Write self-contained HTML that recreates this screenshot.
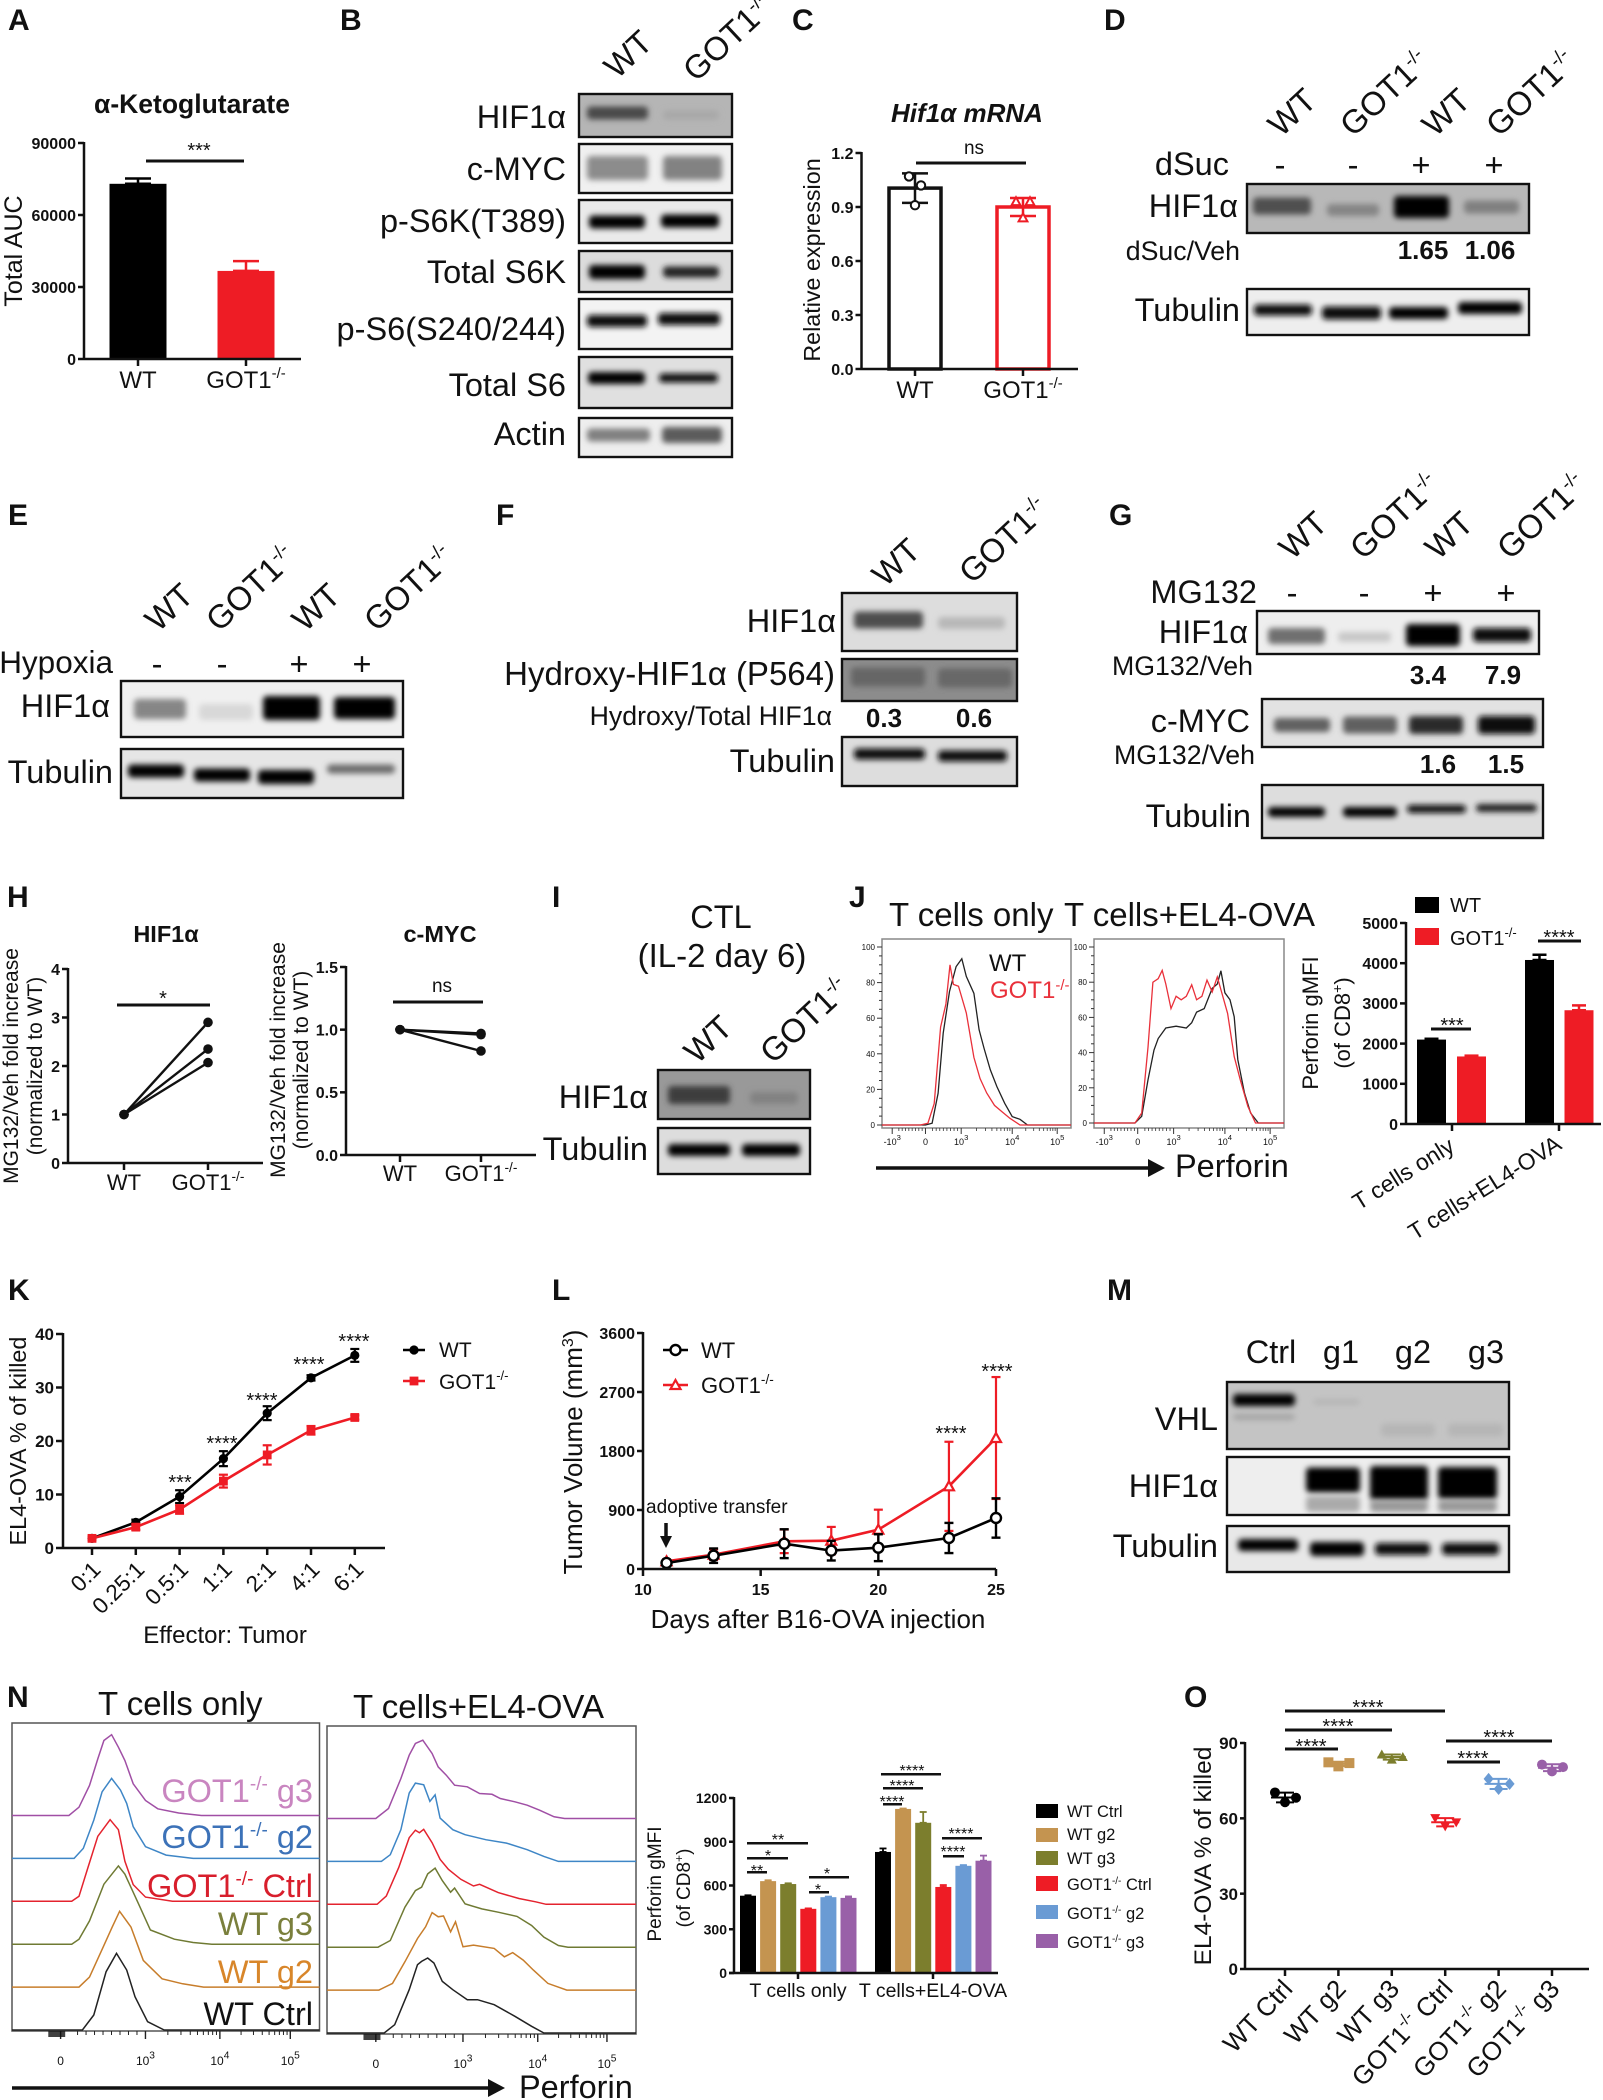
<!DOCTYPE html>
<html lang="en">
<head>
<meta charset="utf-8">
<title>GOT1 HIF1a multi-panel figure</title>
<style>
html,body{margin:0;padding:0;background:#fff;}
svg{display:block;}
text{font-family:"Liberation Sans",Arial,sans-serif;fill:#111;}
.e{text-anchor:end;}
.m{text-anchor:middle;}
.b{font-weight:bold;}
.p{font-weight:bold;font-size:30px;}
.l{font-size:32.5px;}
.t{font-size:33px;}
.v{font-size:26.7px;}
.vb{font-size:26px;font-weight:bold;}
.s{font-size:20px;text-anchor:middle;}
.s16{font-size:16px;text-anchor:middle;}
.r{font-size:33px;}
</style>
</head>
<body>
<svg id="root" xmlns="http://www.w3.org/2000/svg" width="1603" height="2100" viewBox="0 0 1603 2100">
<defs>
<filter id="blur" x="-50%" y="-200%" width="200%" height="500%"><feGaussianBlur stdDeviation="3"/></filter>
</defs>
<rect width="1603" height="2100" fill="#fff"/>
<g id="blots"></g>

<g>
<text class="p" x="8" y="30">A</text>
<text class="b m" x="192" y="113" font-size="26.5">α-Ketoglutarate</text>
<g id="a-marks"></g>
<text class="m" transform="translate(22 251) rotate(-90)" font-size="25">Total AUC</text>
<rect x="146" y="159.5" width="98" height="3" fill="#111"/>
<text class="s" x="199" y="157">***</text>
</g>

<g>
<text class="p" x="340" y="30">B</text>
<text class="r" transform="translate(617 80) rotate(-43)">WT</text>
<text class="r" transform="translate(696 83) rotate(-43)">GOT1<tspan dy="-12" font-size="19">-/-</tspan></text>
<text class="l e" x="566" y="128">HIF1α</text>
<text class="l e" x="566" y="180">c-MYC</text>
<text class="l e" x="566" y="232">p-S6K(T389)</text>
<text class="l e" x="566" y="283">Total S6K</text>
<text class="l e" x="566" y="340">p-S6(S240/244)</text>
<text class="l e" x="566" y="396">Total S6</text>
<text class="l e" x="566" y="445">Actin</text>
</g>

<g>
<text class="p" x="792" y="30">C</text>
<text class="b m" x="967" y="122" font-size="26" font-style="italic">Hif1α mRNA</text>
<g id="c-marks"></g>
<text class="m" transform="translate(820 260) rotate(-90)" font-size="23.3">Relative expression</text>
<rect x="916" y="161.5" width="110" height="3" fill="#111"/>
<text class="m" x="974" y="154" font-size="19">ns</text>
</g>

<g>
<text class="p" x="1104" y="30">D</text>
<text class="r" transform="translate(1281 138) rotate(-43)">WT</text>
<text class="r" transform="translate(1353 138) rotate(-43)">GOT1<tspan dy="-12" font-size="19">-/-</tspan></text>
<text class="r" transform="translate(1435 138) rotate(-43)">WT</text>
<text class="r" transform="translate(1499 138) rotate(-43)">GOT1<tspan dy="-12" font-size="19">-/-</tspan></text>
<text class="l e" x="1229" y="175">dSuc</text>
<text class="l m" x="1280" y="176">-</text>
<text class="l m" x="1353" y="176">-</text>
<text class="l m" x="1421" y="176">+</text>
<text class="l m" x="1494" y="176">+</text>
<text class="l e" x="1238" y="217">HIF1α</text>
<text class="v e" x="1240" y="260">dSuc/Veh</text>
<text class="vb m" x="1423" y="259">1.65</text>
<text class="vb m" x="1490" y="259">1.06</text>
<text class="l e" x="1240" y="321">Tubulin</text>
</g>

<g>
<text class="p" x="8" y="525">E</text>
<text class="r" transform="translate(158 633) rotate(-43)">WT</text>
<text class="r" transform="translate(219 633) rotate(-43)">GOT1<tspan dy="-12" font-size="19">-/-</tspan></text>
<text class="r" transform="translate(305 633) rotate(-43)">WT</text>
<text class="r" transform="translate(377 633) rotate(-43)">GOT1<tspan dy="-12" font-size="19">-/-</tspan></text>
<text class="e" x="113" y="673" font-size="31.5">Hypoxia</text>
<text class="l m" x="157" y="675">-</text>
<text class="l m" x="222" y="675">-</text>
<text class="l m" x="299" y="675">+</text>
<text class="l m" x="362" y="675">+</text>
<text class="l e" x="110" y="717">HIF1α</text>
<text class="l e" x="113" y="783">Tubulin</text>
</g>

<g>
<text class="p" x="496" y="525">F</text>
<text class="r" transform="translate(885 588) rotate(-43)">WT</text>
<text class="r" transform="translate(972 585) rotate(-43)">GOT1<tspan dy="-12" font-size="19">-/-</tspan></text>
<text class="l e" x="836" y="632">HIF1α</text>
<text class="e" x="835" y="685" font-size="33">Hydroxy-HIF1α (P564)</text>
<text class="v e" x="832" y="725">Hydroxy/Total HIF1α</text>
<text class="vb m" x="884" y="727">0.3</text>
<text class="vb m" x="974" y="727">0.6</text>
<text class="l e" x="835" y="772">Tubulin</text>
</g>

<g>
<text class="p" x="1109" y="525">G</text>
<text class="r" transform="translate(1292 561) rotate(-43)">WT</text>
<text class="r" transform="translate(1363 561) rotate(-43)">GOT1<tspan dy="-12" font-size="19">-/-</tspan></text>
<text class="r" transform="translate(1438 561) rotate(-43)">WT</text>
<text class="r" transform="translate(1510 561) rotate(-43)">GOT1<tspan dy="-12" font-size="19">-/-</tspan></text>
<text class="l e" x="1257" y="603">MG132</text>
<text class="l m" x="1292" y="604">-</text>
<text class="l m" x="1364" y="604">-</text>
<text class="l m" x="1433" y="604">+</text>
<text class="l m" x="1506" y="604">+</text>
<text class="l e" x="1248" y="643">HIF1α</text>
<text class="v e" x="1253" y="675">MG132/Veh</text>
<text class="vb m" x="1428" y="684">3.4</text>
<text class="vb m" x="1503" y="684">7.9</text>
<text class="l e" x="1250" y="732">c-MYC</text>
<text class="v e" x="1255" y="764">MG132/Veh</text>
<text class="vb m" x="1438" y="773">1.6</text>
<text class="vb m" x="1506" y="773">1.5</text>
<text class="l e" x="1251" y="827">Tubulin</text>
</g>

<g>
<text class="p" x="7" y="907">H</text>
<text class="b m" x="166" y="942" font-size="23.5">HIF1α</text>
<text class="b m" x="440" y="942" font-size="23.5">c-MYC</text>
<g id="h-marks"></g>
<text class="m" transform="translate(18 1066) rotate(-90)" font-size="21">MG132/Veh fold increase</text>
<text class="m" transform="translate(42 1066) rotate(-90)" font-size="21">(normalized to WT)</text>
<text class="m" transform="translate(285 1060) rotate(-90)" font-size="21">MG132/Veh fold increase</text>
<text class="m" transform="translate(308 1060) rotate(-90)" font-size="21">(normalized to WT)</text>
<rect x="117" y="1003.5" width="93" height="3" fill="#111"/>
<text class="s" x="163" y="1005">*</text>
<rect x="393" y="1000.5" width="90" height="3" fill="#111"/>
<text class="m" x="442" y="992" font-size="19">ns</text>
</g>

<g>
<text class="p" x="552" y="907">I</text>
<text class="l m" x="721" y="928">CTL</text>
<text class="t m" x="722" y="967">(IL-2 day 6)</text>
<text class="r" transform="translate(697 1065) rotate(-43)">WT</text>
<text class="r" transform="translate(773 1065) rotate(-43)">GOT1<tspan dy="-12" font-size="19">-/-</tspan></text>
<text class="l e" x="648" y="1108">HIF1α</text>
<text class="l e" x="648" y="1160">Tubulin</text>
</g>

<g>
<text class="p" x="849" y="907">J</text>
<text class="t" x="889" y="926">T cells only</text>
<text class="t" x="1064" y="926">T cells+EL4-OVA</text>
<g id="j-marks"></g>
<text x="989" y="971" font-size="24">WT</text>
<text x="990" y="998" font-size="24" style="fill:#e9303a">GOT1<tspan dy="-8" font-size="15" style="fill:#e9303a">-/-</tspan></text>
<line x1="876" y1="1168" x2="1150" y2="1168" stroke="#111" stroke-width="3.5"/>
<polygon points="1148,1159 1165,1168 1148,1177" fill="#111"/>
<text class="l" x="1175" y="1177">Perforin</text>
<text class="m" transform="translate(1318 1023) rotate(-90)" font-size="22">Perforin gMFI</text>
<text class="m" transform="translate(1350 1023) rotate(-90)" font-size="22">(of CD8<tspan dy="-8" font-size="14">+</tspan><tspan dy="8">)</tspan></text>
<rect x="1415" y="897" width="24" height="16" fill="#000"/>
<text x="1450" y="912" font-size="20">WT</text>
<rect x="1415" y="928" width="24" height="17" fill="#ee1c25"/>
<text x="1450" y="945" font-size="20">GOT1<tspan dy="-8" font-size="13">-/-</tspan></text>
<rect x="1431" y="1027.5" width="40" height="3" fill="#111"/>
<text class="s" x="1452" y="1032">***</text>
<rect x="1538" y="939.5" width="43" height="3" fill="#111"/>
<text class="s" x="1559" y="944">****</text>
</g>

<g>
<text class="p" x="8" y="1300">K</text>
<g id="k-marks"></g>
<text class="m" transform="translate(26 1441) rotate(-90)" font-size="23.4">EL4-OVA % of killed</text>
<text class="m" x="225" y="1643" font-size="24">Effector: Tumor</text>
<text class="s" x="180" y="1489">***</text>
<text class="s" x="222" y="1450">****</text>
<text class="s" x="262" y="1407">****</text>
<text class="s" x="309" y="1371">****</text>
<text class="s" x="354" y="1348">****</text>
</g>

<g>
<text class="p" x="552" y="1300">L</text>
<g id="l-marks"></g>
<text class="m" transform="translate(582 1452) rotate(-90)" font-size="26">Tumor Volume (mm<tspan dy="-9" font-size="16">3</tspan><tspan dy="9">)</tspan></text>
<text class="m" x="818" y="1628" font-size="26">Days after B16-OVA injection</text>
<text x="646" y="1513" font-size="19">adoptive transfer</text>
<line x1="666" y1="1523" x2="666" y2="1538" stroke="#111" stroke-width="3.5"/>
<polygon points="660,1536 672,1536 666,1548" fill="#111"/>
<text class="s" x="951" y="1440">****</text>
<text class="s" x="997" y="1378">****</text>
</g>

<g>
<text class="p" x="1107" y="1300">M</text>
<text class="l m" x="1271" y="1363">Ctrl</text>
<text class="l m" x="1341" y="1363">g1</text>
<text class="l m" x="1413" y="1363">g2</text>
<text class="l m" x="1486" y="1363">g3</text>
<text class="l e" x="1218" y="1430">VHL</text>
<text class="l e" x="1218" y="1497">HIF1α</text>
<text class="l e" x="1218" y="1557">Tubulin</text>
</g>

<g>
<text class="p" x="7" y="1707">N</text>
<text class="t" x="98" y="1715">T cells only</text>
<text class="t" x="353" y="1718">T cells+EL4-OVA</text>
<g id="n-marks"></g>
<text class="l e" x="313" y="1802" style="fill:#c985c0">GOT1<tspan dy="-12" font-size="19" style="fill:#c985c0">-/-</tspan><tspan dy="12"> g3</tspan></text>
<text class="l e" x="313" y="1848" style="fill:#3c72b8">GOT1<tspan dy="-12" font-size="19" style="fill:#3c72b8">-/-</tspan><tspan dy="12"> g2</tspan></text>
<text class="l e" x="313" y="1897" style="fill:#d81e2c">GOT1<tspan dy="-12" font-size="19" style="fill:#d81e2c">-/-</tspan><tspan dy="12"> Ctrl</tspan></text>
<text class="l e" x="313" y="1935" style="fill:#7a7f3c">WT g3</text>
<text class="l e" x="313" y="1983" style="fill:#d8862a">WT g2</text>
<text class="l e" x="313" y="2025">WT Ctrl</text>
<line x1="12" y1="2088" x2="490" y2="2088" stroke="#111" stroke-width="3.5"/>
<polygon points="488,2079 505,2088 488,2097" fill="#111"/>
<text class="l" x="519" y="2098">Perforin</text>
<text class="m" transform="translate(661 1884) rotate(-90)" font-size="19">Perforin gMFI</text>
<text class="m" transform="translate(690 1888) rotate(-90)" font-size="19">(of CD8<tspan dy="-7" font-size="12">+</tspan><tspan dy="7">)</tspan></text>

<rect x="881" y="1773" width="60" height="2.5" fill="#111"/>
<text class="s16" x="912" y="1776">****</text>
<rect x="883" y="1787" width="40" height="2.5" fill="#111"/>
<text class="s16" x="902" y="1791">****</text>
<rect x="883" y="1803" width="19" height="2.5" fill="#111"/>
<text class="s16" x="892" y="1807">****</text>
<rect x="942" y="1837" width="40" height="2.5" fill="#111"/>
<text class="s16" x="961" y="1839">****</text>
<rect x="943" y="1855" width="21" height="2.5" fill="#111"/>
<text class="s16" x="953" y="1857">****</text>
<rect x="747" y="1842" width="61" height="2.5" fill="#111"/>
<text class="s16" x="778" y="1845">**</text>
<rect x="747" y="1857" width="41" height="2.5" fill="#111"/>
<text class="s16" x="768" y="1861">*</text>
<rect x="747" y="1871" width="20" height="2.5" fill="#111"/>
<text class="s16" x="757" y="1876">**</text>
<rect x="809" y="1876" width="40" height="2.5" fill="#111"/>
<text class="s16" x="827" y="1879">*</text>
<rect x="809" y="1891" width="20" height="2.5" fill="#111"/>
<text class="s16" x="818" y="1895">*</text>

<rect x="1036" y="1804" width="22" height="14" fill="#000"/>
<text x="1067" y="1817" font-size="16.5">WT Ctrl</text>
<rect x="1036" y="1828" width="22" height="14" fill="#c49450"/>
<text x="1067" y="1840" font-size="16.5">WT g2</text>
<rect x="1036" y="1851" width="22" height="14" fill="#7c7e2d"/>
<text x="1067" y="1864" font-size="16.5">WT g3</text>
<rect x="1036" y="1876" width="22" height="15" fill="#ee1c25"/>
<text x="1067" y="1890" font-size="16.5">GOT1<tspan dy="-6" font-size="10">-/-</tspan><tspan dy="6"> Ctrl</tspan></text>
<rect x="1036" y="1905" width="22" height="14" fill="#6a9bd4"/>
<text x="1067" y="1919" font-size="16.5">GOT1<tspan dy="-6" font-size="10">-/-</tspan><tspan dy="6"> g2</tspan></text>
<rect x="1036" y="1934" width="22" height="14" fill="#9960a8"/>
<text x="1067" y="1948" font-size="16.5">GOT1<tspan dy="-6" font-size="10">-/-</tspan><tspan dy="6"> g3</tspan></text>
</g>

<g>
<text class="p" x="1184" y="1707">O</text>
<g id="o-marks"></g>
<text class="m" transform="translate(1211 1856) rotate(-90)" font-size="24.5">EL4-OVA % of killed</text>
<rect x="1285" y="1709.5" width="160" height="3" fill="#111"/>
<text class="s" x="1368" y="1714">****</text>
<rect x="1285" y="1728.5" width="107" height="3" fill="#111"/>
<text class="s" x="1338" y="1733">****</text>
<rect x="1285" y="1747.5" width="53" height="3" fill="#111"/>
<text class="s" x="1311" y="1753">****</text>
<rect x="1446" y="1739.5" width="106" height="3" fill="#111"/>
<text class="s" x="1499" y="1744">****</text>
<rect x="1447" y="1760.5" width="53" height="3" fill="#111"/>
<text class="s" x="1473" y="1765">****</text>
</g>
</svg>

<script>
/* ---------- panel A ---------- */
const aCategories = ['WT', 'GOT1-/-'];
const aMeans = [73000, 36700];
const aErrors = [2200, 4100];
const aTicks = [0, 30000, 60000, 90000];
/* ---------- panel C ---------- */
const cCategories = ['WT', 'GOT1-/-'];
const cMeans = [1.005, 0.90];
const cErrors = [0.082, 0.05];
const cPointsWT = [1.07, 1.02, 0.91];
const cPointsGOT = [0.93, 0.93, 0.84];
const cTicks = [0, 0.3, 0.6, 0.9, 1.2];
/* ---------- panel H ---------- */
const hCategories = ['WT', 'GOT1-/-'];
const hHifWT = [1, 1, 1];
const hHifGOT = [2.9, 2.35, 2.07];
const hHifTicks = [0, 1, 2, 3, 4];
const hMycWT = [1, 1, 1];
const hMycGOT = [0.97, 0.96, 0.83];
const hMycTicks = [0, 0.5, 1.0, 1.5];
/* ---------- panel J: flow histograms as [channel %, count %] ---------- */
const jOnlyWT = [[23,0],[26.5,1],[29.7,17.8],[32.4,51.6],[35.7,75],[39.2,89],[42.2,93.4],[44.6,83.5],[48.6,74],[51.4,53.5],[54,43],[57.3,31],[60.8,21.6],[64.9,12.2],[68.9,4.7],[73,3.2],[77,0],[83.8,0]];
const jOnlyGOT = [[20.3,0],[24.3,1],[27.6,12],[31,55],[33.8,68],[36,90],[37.8,79],[40.5,78],[44.6,63],[48.6,38],[51.9,26],[55.4,18],[59.5,11],[63.5,7.5],[67.6,3.8],[73,0],[78.4,0]];
const jEl4WT = [[21.6,0],[25.1,3.8],[28.4,24.5],[31.6,41.5],[33.8,48],[37.8,54],[43.2,55],[48.6,54],[51.4,57],[54,63],[58,65],[62.2,76.5],[64.9,79],[66.8,86.5],[68.9,74],[71.6,70],[73.8,60.4],[75.7,36],[79.2,17],[82.4,5.7],[86.5,0]];
const jEl4GOT = [[21.6,0],[25.1,5.7],[28.4,43],[31,80],[33.8,82],[35.9,86.7],[37.8,79],[40.5,65],[43.2,72],[45.9,70],[48.6,72],[51.4,78.5],[54,70],[56.8,72],[59.5,81.2],[62.2,74.5],[64.9,83],[67.6,72.8],[70.3,62.3],[73.8,37.7],[77,24.5],[81,9.4],[85,0],[89,0]];
const jFlowYTicks = [0, 20, 40, 60, 80, 100];
const jFlowXLabels = ['-10^3', '0', '10^3', '10^4', '10^5'];
const jFlowXChannels = [5.4, 23, 41.9, 68.9, 92.7];
/* ---------- panel J bars ---------- */
const jGroups = ['T cells only', 'T cells+EL4-OVA'];
const jBarWT = [2100, 4080];
const jBarGOT = [1680, 2830];
const jBarWTErr = [20, 130];
const jBarGOTErr = [20, 120];
const jBarTicks = [0, 1000, 2000, 3000, 4000, 5000];
/* ---------- panel K ---------- */
const kCategories = ['0:1', '0.25:1', '0.5:1', '1:1', '2:1', '4:1', '6:1'];
const kWT = [1.8, 4.8, 9.6, 16.7, 25.2, 31.8, 36];
const kWTErr = [0.3, 0.5, 1.2, 1.4, 1.3, 0.5, 1.2];
const kGOT = [1.8, 3.9, 7.2, 12.5, 17.4, 22, 24.4];
const kGOTErr = [0.3, 0.5, 0.8, 1.2, 1.8, 0.8, 0.4];
const kTicks = [0, 10, 20, 30, 40];
/* ---------- panel L ---------- */
const lDays = [11, 13, 16, 18, 20, 23, 25];
const lWT = [92, 203, 386, 280, 325, 473, 778];
const lWTErr = [30, 110, 220, 150, 205, 230, 300];
const lGOT = [117, 219, 422, 432, 600, 1261, 1998];
const lGOTErr = [30, 80, 180, 210, 305, 680, 930];
const lYTicks = [0, 900, 1800, 2700, 3600];
const lXTicks = [10, 15, 20, 25];
/* ---------- panel N flow histograms ---------- */
const nSeriesNames = ['wt-ctrl', 'wt-g2', 'wt-g3', 'got1-ctrl', 'got1-g2', 'got1-g3'];
const nOnlyWTCtrl = [[22.9,0],[26.6,18],[30.6,70],[34,92],[37.3,72],[40,40],[44.1,10],[49.5,0]];
const nOnlyWTg2 = [[21.8,0],[25.2,12],[29.9,50],[32.6,72],[35,91],[38.7,72],[42.7,32],[48.8,10],[55.5,4],[62.3,0]];
const nOnlyWTg3 = [[19.4,0],[21.8,6],[25.2,28],[29.9,72],[34.6,94],[36.7,84],[40.7,52],[45,17],[52.8,6],[58.9,2],[65,0]];
const nOnlyGOTCtrl = [[19.4,0],[21.8,6],[24.5,38],[27.9,78],[31.9,98],[34.6,86],[36.7,48],[39.4,20],[43.4,5],[52.2,0]];
const nOnlyGOTg2 = [[20.2,0],[23.2,12],[26.6,46],[29.3,80],[32.4,96],[35.3,82],[37.3,66],[39.4,38],[43.4,14],[50.1,4],[58.9,0]];
const nOnlyGOTg3 = [[18.5,0],[21.8,10],[25.2,36],[27.9,68],[29.9,90],[32.4,97],[34.6,82],[36.7,66],[39.4,38],[43.4,18],[47.4,8],[54.2,3],[61.6,0]];
const nEl4WTCtrl = [[18.5,0],[21.9,10],[26.6,52],[29.3,82],[30.6,86],[32.6,90],[34.6,84],[37.3,62],[40.7,52],[45.4,40],[48.7,40],[54.1,34],[60.8,20],[66.2,8],[70.2,0]];
const nEl4WTg2 = [[16.8,0],[21.2,8],[25.2,34],[29.3,62],[31.9,76],[34,93],[36,88],[37.7,89],[40,70],[41.6,82],[44,52],[47.4,54],[54.1,50],[57.4,40],[60.1,45],[63.5,36],[66.8,24],[71.5,8],[77.6,0]];
const nEl4WTg3 = [[16.5,0],[20.5,8],[25.2,48],[28.6,68],[30.6,72],[32.6,88],[35,95],[37.3,80],[40,66],[41.3,71],[44.7,52],[50.1,46],[55.4,42],[61.5,37],[66.2,26],[70.2,12],[74.9,2],[78,0]];
const nEl4GOTCtrl = [[16.2,0],[19.2,10],[23.2,44],[26.6,80],[28.6,89],[29.9,86],[31.3,90],[34,74],[36.6,54],[39.3,42],[43.3,30],[47.4,22],[49.4,24],[55.4,14],[62.1,7],[67.5,3],[70.9,0]];
const nEl4GOTg2 = [[17.6,0],[20.5,8],[23.9,38],[26.6,82],[28.6,94],[31.3,92],[33.3,72],[35,80],[36.6,52],[40.7,38],[44.7,32],[51.4,26],[58.1,22],[64.8,14],[70.2,6],[74.9,0]];
const nEl4GOTg3 = [[15.8,0],[19.9,12],[23.9,48],[26.6,76],[28.6,90],[31,94],[34,78],[36,62],[38.6,52],[41.3,40],[45.4,38],[49.4,30],[53.4,29],[56.1,24],[60.8,20],[64.8,16],[68.8,10],[73.5,2],[76.9,0]];
const nFlowXLabels = ['0', '10^3', '10^4', '10^5'];
const nOnlyXChannels = [15.8, 43.4, 67.6, 90.5];
const nEl4XChannels = [15.8, 44, 68.2, 90.6];
/* ---------- panel N bars ---------- */
const nGroups = ['T cells only', 'T cells+EL4-OVA'];
const nBarOnly = [530, 630, 610, 440, 520, 515];
const nBarOnlyErr = [3, 6, 5, 3, 4, 10];
const nBarEl4 = [830, 1125, 1030, 590, 735, 770];
const nBarEl4Err = [24, 3, 74, 13, 5, 35];
const nBarTicks = [0, 300, 600, 900, 1200];
/* ---------- panel O ---------- */
const oCategories = ['WT Ctrl', 'WT g2', 'WT g3', 'GOT1-/- Ctrl', 'GOT1-/- g2', 'GOT1-/- g3'];
const oWTCtrl = [70.3, 66.4, 68.2];
const oWTg2 = [82.3, 80.7, 82];
const oWTg3 = [85.4, 83.4, 84.4];
const oGOTCtrl = [60.1, 56.8, 58.4];
const oGOTg2 = [75.7, 71.7, 73.7];
const oGOTg3 = [81.4, 78.7, 80.4];
const oTicks = [0, 30, 60, 90];

/* ---------- blots: [x1, x2, centre y, height, colour] bands in page coordinates ---------- */
const blotList = [
 ['b-hif1a',579,94,153,43,'#b5b5b5',[[587,648,113,13,'#4a4a4a'],[663,719,115,9,'#a8a8a8']]],
 ['b-cmyc',579,144,153,49,'#f0f0f0',[[587,648,168,24,'#8c8c8c'],[663,722,168,24,'#828282']]],
 ['b-ps6k',579,200,153,43,'#eaeaea',[[589,645,222,13,'#000'],[661,719,221,13,'#000']]],
 ['b-total-s6k',579,251,153,41,'#dcdcdc',[[589,645,272,14,'#000'],[663,719,272,11,'#222']]],
 ['b-ps6',579,299,153,50,'#f3f3f3',[[587,647,321,12,'#111'],[658,720,319,12,'#111']]],
 ['b-total-s6',579,357,153,51,'#e0e0e0',[[588,645,378,12,'#000'],[659,718,378,9,'#111']]],
 ['b-actin',579,418,153,39,'#eeeeee',[[587,650,435,13,'#808080'],[662,722,435,16,'#5c5c5c']]],
 ['d-hif1a',1247,184,282,49,'#b8b8b8',[[1253,1311,206,17,'#505050'],[1327,1379,210,12,'#858585'],[1394,1449,207,22,'#000'],[1464,1519,207,13,'#808080']]],
 ['d-tubulin',1247,289,282,46,'#eeeeee',[[1254,1312,310,11,'#111'],[1322,1381,313,13,'#111'],[1389,1448,313,12,'#000'],[1458,1522,308,12,'#000']]],
 ['e-hif1a',121,681,282,56,'#f0f0f0',[[134,186,709,20,'#868686'],[199,253,712,16,'#d8d8d8'],[263,320,708,24,'#000'],[334,395,708,22,'#000']]],
 ['e-tubulin',121,749,282,49,'#e6e6e6',[[128,184,771,13,'#000'],[194,250,775,13,'#000'],[258,314,777,14,'#000'],[327,395,769,9,'#6a6a6a']]],
 ['f-hif1a',842,593,175,58,'#dddddd',[[854,923,620,17,'#4e4e4e'],[938,1005,623,12,'#b8b8b8']]],
 ['f-hydroxy',842,659,175,42,'#8c8c8c',[[851,925,677,19,'#666'],[938,1012,678,19,'#686868']]],
 ['f-tubulin',842,737,175,49,'#dddddd',[[854,925,754,11,'#111'],[938,1007,756,11,'#111']]],
 ['g-hif1a',1257,611,282,43,'#eeeeee',[[1268,1325,636,16,'#707070'],[1338,1391,637,10,'#c8c8c8'],[1406,1460,635,22,'#000'],[1473,1531,635,14,'#111']]],
 ['g-cmyc',1262,699,281,48,'#e2e2e2',[[1274,1330,725,14,'#606060'],[1343,1397,725,17,'#606060'],[1409,1463,725,18,'#2a2a2a'],[1478,1535,725,18,'#111']]],
 ['g-tubulin',1262,785,281,53,'#dddddd',[[1268,1325,812,10,'#000'],[1343,1397,812,10,'#000'],[1407,1466,809,8,'#111'],[1476,1537,808,8,'#222']]],
 ['i-hif1a',658,1070,152,49,'#999999',[[668,730,1095,18,'#3c3c3c'],[750,798,1098,12,'#828282']]],
 ['i-tubulin',658,1128,152,46,'#dddddd',[[668,730,1150,12,'#000'],[742,800,1150,12,'#000']]],
 ['m-vhl',1227,1382,282,67,'#c4c4c4',[[1233,1295,1400,12,'#000'],[1233,1295,1417,6,'#a4a4a4'],[1313,1360,1402,5,'#b4b4b4'],[1381,1435,1430,13,'#b6b6b6'],[1448,1503,1430,13,'#b6b6b6']]],
 ['m-hif1a',1227,1457,282,58,'#eeeeee',[[1306,1360,1480,25,'#000'],[1370,1428,1483,34,'#000'],[1438,1497,1483,32,'#000'],[1306,1360,1504,16,'#aaa'],[1370,1428,1506,12,'#999'],[1438,1497,1506,12,'#999']]],
 ['m-tubulin',1227,1526,282,46,'#e8e8e8',[[1238,1298,1545,12,'#000'],[1310,1364,1549,14,'#000'],[1375,1430,1549,12,'#111'],[1442,1499,1549,12,'#111']]]
];

const NS = 'http://www.w3.org/2000/svg';
const RED = '#ee1c25';
const INK = '#111';

function el(tag, attrs, parent) {
  const e = document.createElementNS(NS, tag);
  for (const k in attrs) e.setAttribute(k, attrs[k]);
  parent.appendChild(e);
  return e;
}
function linear(d0, d1, r0, r1) { return v => r0 + (v - d0) * (r1 - r0) / (d1 - d0); }
function slug(s) { return String(s).toLowerCase().replace(/[^a-z0-9]+/g, '-').replace(/^-|-$/g, ''); }

function richText(parent, str, x, y, fs, o) {
  o = o || {};
  const t = el('text', {'font-size': fs, 'text-anchor': o.anchor || 'middle', 'font-weight': o.weight || 'normal'}, parent);
  if (o.rotate !== undefined) t.setAttribute('transform', 'translate(' + x + ' ' + y + ') rotate(' + o.rotate + ')');
  else { t.setAttribute('x', x); t.setAttribute('y', y); }
  const caret = str.indexOf('^');
  if (caret >= 0) {
    t.appendChild(document.createTextNode(str.slice(0, caret)));
    const e = el('tspan', {dy: -fs * 0.55, 'font-size': fs * 0.85}, t);
    e.textContent = str.slice(caret + 1);
    return t;
  }
  const parts = str.split('-/-');
  t.appendChild(document.createTextNode(parts[0]));
  if (parts.length > 1) {
    const sup = el('tspan', {dy: -fs * 0.42, 'font-size': fs * 0.62}, t);
    sup.textContent = '-/-';
    if (parts[1]) {
      const rest = el('tspan', {dy: fs * 0.42}, t);
      rest.textContent = parts[1];
    }
  }
  return t;
}

function yAxis(g, prefix, x, scale, ticks, fs, decimals, tickLen) {
  const ys = ticks.map(scale);
  const axis = el('line', {x1: x, x2: x, y1: Math.min.apply(null, ys) - 1, y2: Math.max.apply(null, ys) + 1, stroke: INK, 'stroke-width': 2.5}, g);
  
  
  ticks.forEach(function (v) {
    const y = scale(v);
    const tick = el('line', {x1: x - (tickLen || 7), x2: x, y1: y, y2: y, stroke: INK, 'stroke-width': 2.5}, g);
    
    
    const label = richText(g, v.toFixed(decimals), x - (tickLen || 7) - 2, y + fs * 0.36, fs, {anchor: 'end', weight: 'bold'});
    
    
  });
}
function xAxisLine(g, prefix, x0, x1, y) {
  const axis = el('line', {x1: x0, x2: x1, y1: y, y2: y, stroke: INK, 'stroke-width': 2.5}, g);
  
  
}
function xTick(g, prefix, x, y, len) {
  const tick = el('line', {x1: x, x2: x, y1: y, y2: y + (len || 7), stroke: INK, 'stroke-width': 2.5}, g);
  
  
}
function errorBar(g, name, x, yTop, yBottom, cap, color, sw) {
  const w = el('g', {stroke: color, 'stroke-width': sw || 2.5, fill: 'none'}, g);
  
  
  el('line', {x1: x, x2: x, y1: yTop, y2: yBottom}, w);
  el('line', {x1: x - cap, x2: x + cap, y1: yTop, y2: yTop}, w);
  if (yBottom !== yTop) el('line', {x1: x - cap, x2: x + cap, y1: yBottom, y2: yBottom}, w);
}
function marker(g, shape, x, y, s, fill, stroke, sw) {
  let m;
  if (shape === 'circle') m = el('circle', {cx: x, cy: y, r: s}, g);
  else if (shape === 'square') m = el('rect', {x: x - s, y: y - s, width: 2 * s, height: 2 * s}, g);
  else if (shape === 'triangle') m = el('polygon', {points: [x, y - s, x + s, y + s * 0.8, x - s, y + s * 0.8].join(' ')}, g);
  else if (shape === 'invtriangle') m = el('polygon', {points: [x, y + s, x + s, y - s * 0.8, x - s, y - s * 0.8].join(' ')}, g);
  else m = el('polygon', {points: [x, y - s * 1.2, x + s, y, x, y + s * 1.2, x - s, y].join(' ')}, g);
  m.setAttribute('fill', fill);
  m.setAttribute('stroke', stroke || 'none');
  if (sw) m.setAttribute('stroke-width', sw);
  return m;
}
function pathFrom(values, xs, ys) {
  return values.map(function (p, i) { return (i ? 'L' : 'M') + xs(p[0]).toFixed(1) + ' ' + ys(p[1]).toFixed(1); }).join(' ');
}

/* ---------- blots ---------- */
const blotRoot = document.getElementById('blots');
blotList.forEach(function (b) {
  const s = el('svg', {x: b[1], y: b[2], width: b[3], height: b[4], viewBox: b[1] + ' ' + b[2] + ' ' + b[3] + ' ' + b[4]}, blotRoot);
  
  
  el('rect', {x: b[1], y: b[2], width: b[3], height: b[4], fill: b[5]}, s);
  b[6].forEach(function (band) {
    const r = el('rect', {x: band[0], y: band[2] - band[3] / 2, width: band[1] - band[0], height: band[3], rx: 4, fill: band[4], filter: 'url(#blur)'}, s);
    
    
  });
  const border = el('rect', {x: b[1], y: b[2], width: b[3], height: b[4], fill: 'none', stroke: '#111', 'stroke-width': 2.4}, blotRoot);
  
  
});

/* ---------- panel A ---------- */
(function () {
  const g = document.getElementById('a-marks');
  const y = linear(0, 90000, 359, 143);
  const x = i => 138 + 108 * i;
  const colors = ['#000', RED];
  aMeans.forEach(function (v, i) {
    errorBar(g, 'chart-a-error-bar', x(i), y(v + aErrors[i]), y(v), 13, colors[i]);
    const b = el('rect', {x: x(i) - 28.5, y: y(v), width: 57, height: y(0) - y(v), fill: colors[i]}, g);
    
    
    xTick(g, 'chart-a', x(i), 359);
    const t = richText(g, aCategories[i], x(i), 388, 24);
    
    
  });
  yAxis(g, 'chart-a', 84, y, aTicks, 16, 0, 6);
  xAxisLine(g, 'chart-a', 84, 301, 359);
})();

/* ---------- panel C ---------- */
(function () {
  const g = document.getElementById('c-marks');
  const y = linear(0, 1.2, 369, 153);
  const x = i => 915 + 108 * i;
  const colors = [INK, RED];
  cMeans.forEach(function (v, i) {
    const b = el('rect', {x: x(i) - 26, y: y(v), width: 52, height: y(0) - y(v), fill: '#fff', stroke: colors[i], 'stroke-width': 3.5}, g);
    
    
    errorBar(g, 'chart-c-error-bar', x(i), y(v + cErrors[i]), y(v - cErrors[i]), 13, colors[i]);
    xTick(g, 'chart-c', x(i), 369);
    const t = richText(g, cCategories[i], x(i), 398, 24);
    
    
  });
  const off = [-6, 6, 0];
  cPointsWT.forEach(function (v, i) {
    const p = marker(g, 'circle', x(0) + off[i], y(v), 4.2, '#fff', INK, 2);
    
    
  });
  cPointsGOT.forEach(function (v, i) {
    const p = marker(g, 'triangle', x(1) + [-7, 7, 0][i], y(v), 4.4, '#fff', RED, 2);
    
    
  });
  yAxis(g, 'chart-c', 861.5, y, cTicks, 16, 1, 6);
  xAxisLine(g, 'chart-c', 861.5, 1078, 369);
})();

/* ---------- panel H ---------- */
function pairedChart(g, prefix, x0, x1, xEnd, axisX, y, ticks, decimals, wt, got, labelY) {
  wt.forEach(function (v, i) {
    const ln = el('line', {x1: x0, y1: y(v), x2: x1, y2: y(got[i]), stroke: INK, 'stroke-width': 2.4}, g);
    
    
    const a = marker(g, 'circle', x0, y(v), 4.8, INK);
    
    
    const b = marker(g, 'circle', x1, y(got[i]), 4.8, INK);
    
    
  });
  yAxis(g, prefix, axisX, y, ticks, 16, decimals, 6);
  const y0 = y(ticks[0]);
  xAxisLine(g, prefix, axisX, xEnd, y0);
  [x0, x1].forEach(function (px, i) {
    xTick(g, prefix, px, y0);
    const t = richText(g, hCategories[i], px, labelY, 22);
    
    
  });
}
(function () {
  const g = document.getElementById('h-marks');
  pairedChart(g, 'chart-h1', 124, 208, 263, 68, linear(0, 4, 1163, 969), hHifTicks, 0, hHifWT, hHifGOT, 1190);
  pairedChart(g, 'chart-h2', 400, 481, 536, 346, linear(0, 1.5, 1155, 967), hMycTicks, 1, hMycWT, hMycGOT, 1181);
})();

/* ---------- panel J flow ---------- */
function flowPanelJ(g, prefix, left, right, top, bottom, y0, y100, wt, got) {
  const xs = linear(0, 100, left, right);
  const ys = linear(0, 100, y0, y100);
  const box = el('rect', {x: left, y: top, width: right - left, height: bottom - top, fill: 'none', stroke: '#888', 'stroke-width': 1.5}, g);
  
  
  for (let v = 0; v <= 100; v += 5) {
    const major = jFlowYTicks.indexOf(v) >= 0;
    const tk = el('line', {x1: left - (major ? 5 : 3), x2: left, y1: ys(v), y2: ys(v), stroke: '#333', 'stroke-width': 1}, g);
    
    
  }
  jFlowYTicks.forEach(function (v) {
    const t = richText(g, String(v), left - 7, ys(v) + 3, 8, {anchor: 'end'});
    
    
  });
  jFlowXChannels.forEach(function (c, i) {
    const tk = el('line', {x1: xs(c), x2: xs(c), y1: bottom, y2: bottom + 6, stroke: '#333', 'stroke-width': 1}, g);
    
    
    const t = richText(g, jFlowXLabels[i], xs(c), bottom + 17, 9);
    
    
    if (i < jFlowXChannels.length - 1) {
      for (let m = 2; m < 10; m++) {
        const a = (i < 2) ? jFlowXChannels[i] + (jFlowXChannels[i + 1] - jFlowXChannels[i]) * (m / 10)
                          : jFlowXChannels[i] + (jFlowXChannels[i + 1] - jFlowXChannels[i]) * Math.log10(m);
        const mt = el('line', {x1: xs(a), x2: xs(a), y1: bottom, y2: bottom + 3, stroke: '#333', 'stroke-width': 0.8}, g);
        
        
      }
    }
  });
  const a = el('path', {d: pathFrom([[0, 0]].concat(wt, [[100, 0]]), xs, ys), fill: 'none', stroke: '#222', 'stroke-width': 1.3}, g);
  
  
  const b = el('path', {d: pathFrom([[0, 0]].concat(got, [[100, 0]]), xs, ys), fill: 'none', stroke: '#e9303a', 'stroke-width': 1.3}, g);
  
  
}
(function () {
  const g = document.getElementById('j-marks');
  flowPanelJ(g, 'j-flow-only', 882, 1071, 939, 1128, 1125, 947, jOnlyWT, jOnlyGOT);
  flowPanelJ(g, 'j-flow-el4', 1094, 1284, 939, 1128, 1123, 947, jEl4WT, jEl4GOT);

  /* bars */
  const y = linear(0, 5000, 1124, 923);
  const xWT = [1431.5, 1539.5];
  const xGOT = [1471.5, 1579];
  const tx = [1452, 1559];
  jGroups.forEach(function (name, i) {
    errorBar(g, 'j-bar-error-wt', xWT[i], y(jBarWT[i] + jBarWTErr[i]), y(jBarWT[i]), 7, '#000');
    errorBar(g, 'j-bar-error-got1', xGOT[i], y(jBarGOT[i] + jBarGOTErr[i]), y(jBarGOT[i]), 7, RED);
    const a = el('rect', {x: xWT[i] - 14.5, y: y(jBarWT[i]), width: 29, height: y(0) - y(jBarWT[i]), fill: '#000'}, g);
    
    
    const b = el('rect', {x: xGOT[i] - 14.5, y: y(jBarGOT[i]), width: 29, height: y(0) - y(jBarGOT[i]), fill: RED}, g);
    
    
    xTick(g, 'j-bar', tx[i], 1124);
    const t = richText(g, name, tx[i] + 4, 1150 - i * 2, 23, {anchor: 'end', rotate: -32});
    
    
  });
  yAxis(g, 'j-bar', 1406, y, jBarTicks, 16, 0, 6);
  xAxisLine(g, 'j-bar', 1406, 1601, 1124);
})();

/* ---------- panel K ---------- */
(function () {
  const g = document.getElementById('k-marks');
  const x = i => 92 + 43.8 * i;
  const y = linear(0, 40, 1548, 1334);
  kCategories.forEach(function (c, i) {
    xTick(g, 'chart-k', x(i), 1548);
    const t = richText(g, c, x(i) + 10, 1571, 22.5, {anchor: 'end', rotate: -45});
    
    
  });
  const lineWT = el('path', {d: pathFrom(kWT.map((v, i) => [i, v]), x, y), fill: 'none', stroke: '#000', 'stroke-width': 2.6}, g);
  
  
  kWT.forEach(function (v, i) {
    errorBar(g, 'chart-k-error-wt', x(i), y(v + kWTErr[i]), y(v - kWTErr[i]), 4.5, '#000', 2.2);
    const p = marker(g, 'circle', x(i), y(v), 4.6, '#000');
    
    
  });
  const lineGOT = el('path', {d: pathFrom(kGOT.map((v, i) => [i, v]), x, y), fill: 'none', stroke: RED, 'stroke-width': 2.6}, g);
  
  
  kGOT.forEach(function (v, i) {
    errorBar(g, 'chart-k-error-got1', x(i), y(v + kGOTErr[i]), y(v - kGOTErr[i]), 4.5, RED, 2.2);
    const p = marker(g, 'square', x(i), y(v), 4.4, RED);
    
    
  });
  yAxis(g, 'chart-k', 63, y, kTicks, 17, 0, 7);
  xAxisLine(g, 'chart-k', 63, 385, 1548);

  const la = el('line', {x1: 403, x2: 425, y1: 1350, y2: 1350, stroke: '#000', 'stroke-width': 2.6}, g);
  
  
  const ma = marker(g, 'circle', 414, 1350, 4.6, '#000');
  
  
  const ta = richText(g, 'WT', 439, 1357, 21, {anchor: 'start'});
  
  
  const lb = el('line', {x1: 403, x2: 425, y1: 1381, y2: 1381, stroke: RED, 'stroke-width': 2.6}, g);
  
  
  const mb = marker(g, 'square', 414, 1381, 4.4, RED);
  
  
  const tb = richText(g, 'GOT1-/-', 439, 1389, 21, {anchor: 'start'});
  
  
})();

/* ---------- panel L ---------- */
(function () {
  const g = document.getElementById('l-marks');
  const x = linear(10, 25, 643, 996);
  const y = linear(0, 3600, 1569, 1333);
  const lineGOT = el('path', {d: pathFrom(lDays.map((d, i) => [d, lGOT[i]]), x, y), fill: 'none', stroke: RED, 'stroke-width': 2.6}, g);
  
  
  lDays.forEach(function (d, i) {
    errorBar(g, 'chart-l-error-got1', x(d), y(lGOT[i] + lGOTErr[i]), y(lGOT[i] - lGOTErr[i]), 4.5, RED, 2.2);
    const p = marker(g, 'triangle', x(d), y(lGOT[i]), 5, '#fff', RED, 2.2);
    
    
  });
  const lineWT = el('path', {d: pathFrom(lDays.map((d, i) => [d, lWT[i]]), x, y), fill: 'none', stroke: '#000', 'stroke-width': 2.6}, g);
  
  
  lDays.forEach(function (d, i) {
    errorBar(g, 'chart-l-error-wt', x(d), y(lWT[i] + lWTErr[i]), y(Math.max(lWT[i] - lWTErr[i], 0)), 4.5, '#000', 2.4);
    const p = marker(g, 'circle', x(d), y(lWT[i]), 5, '#fff', '#000', 2.4);
    
    
  });
  yAxis(g, 'chart-l', 643, y, lYTicks, 16, 0, 6);
  xAxisLine(g, 'chart-l', 643, 996, 1569);
  lXTicks.forEach(function (d) {
    xTick(g, 'chart-l', x(d), 1569);
    const t = richText(g, String(d), x(d), 1595, 16, {weight: 'bold'});
    
    
  });
  const la = el('line', {x1: 663, x2: 688, y1: 1350, y2: 1350, stroke: '#000', 'stroke-width': 2.6}, g);
  
  
  const ma = marker(g, 'circle', 675.5, 1350, 5, '#fff', '#000', 2.4);
  
  
  const ta = richText(g, 'WT', 701, 1358, 22, {anchor: 'start'});
  
  
  const lb = el('line', {x1: 663, x2: 688, y1: 1385, y2: 1385, stroke: RED, 'stroke-width': 2.6}, g);
  
  
  const mb = marker(g, 'triangle', 675.5, 1385, 5, '#fff', RED, 2.2);
  
  
  const tb = richText(g, 'GOT1-/-', 701, 1393, 22, {anchor: 'start'});
  
  
})();

/* ---------- panel N flow + bars ---------- */
function flowStack(g, prefix, left, right, top, bottom, baseY, series, channels) {
  const xs = linear(0, 100, left, right);
  const colors = ['#222', '#c77d2b', '#6f7a33', '#e4232e', '#3e86c6', '#a04fa5'];
  const box = el('rect', {x: left, y: top, width: right - left, height: bottom - top, fill: 'none', stroke: '#555', 'stroke-width': 1.5}, g);
  
  
  series.forEach(function (data, i) {
    const base = baseY - i * 42.9;
    const ys = linear(0, 100, base, base - 83.3);
    const p = el('path', {d: pathFrom([[0, 0]].concat(data, [[100, 0]]), xs, ys), fill: 'none', stroke: colors[i], 'stroke-width': 1.5}, g);
    
    
  });
  channels.forEach(function (c, i) {
    const tk = el('line', {x1: xs(c), x2: xs(c), y1: bottom, y2: bottom + 8, stroke: '#222', 'stroke-width': 1.4}, g);
    
    
    const t = richText(g, nFlowXLabels[i], xs(c), bottom + 34, 12);
    
    
    if (i < channels.length - 1) {
      for (let m = 2; m < 10; m++) {
        const a = channels[i] + (channels[i + 1] - channels[i]) * (i === 0 ? m / 10 : Math.log10(m));
        const mt = el('line', {x1: xs(a), x2: xs(a), y1: bottom, y2: bottom + 4, stroke: '#222', 'stroke-width': 1}, g);
        
        
      }
    }
  });
  const cluster = el('rect', {x: xs(channels[0] - 4), y: bottom, width: xs(channels[0] + 1.5) - xs(channels[0] - 4), height: 6, fill: '#111', opacity: 0.8}, g);
  
  
}
(function () {
  const g = document.getElementById('n-marks');
  flowStack(g, 'n-flow-only', 12, 319.5, 1723, 2031, 2030, [nOnlyWTCtrl, nOnlyWTg2, nOnlyWTg3, nOnlyGOTCtrl, nOnlyGOTg2, nOnlyGOTg3], nOnlyXChannels);
  flowStack(g, 'n-flow-el4', 327, 636, 1726, 2034, 2033, [nEl4WTCtrl, nEl4WTg2, nEl4WTg3, nEl4GOTCtrl, nEl4GOTg2, nEl4GOTg3], nEl4XChannels);

  const y = linear(0, 1200, 1973, 1798);
  const colors = ['#000', '#c49450', '#7c7e2d', RED, '#6a9bd4', '#9960a8'];
  const groupLeft = [748, 883];
  const step = 20.1;
  [[nBarOnly, nBarOnlyErr], [nBarEl4, nBarEl4Err]].forEach(function (pair, gi) {
    pair[0].forEach(function (v, i) {
      const cx = groupLeft[gi] + step * i;
      errorBar(g, 'n-bar-error', cx, y(v + pair[1][i]), y(v), 3.5, colors[i], 1.8);
      const b = el('rect', {x: cx - 8, y: y(v), width: 16, height: y(0) - y(v), fill: colors[i]}, g);
      
      
    });
  });
  yAxis(g, 'n-bar', 734, y, nBarTicks, 14, 0, 5);
  xAxisLine(g, 'n-bar', 729, 998, 1973);
  [798, 933].forEach(function (px, i) {
    xTick(g, 'n-bar', px, 1973, 6);
    const t = richText(g, nGroups[i], px, 1997, 19.5);
    
    
  });
})();

/* ---------- panel O ---------- */
(function () {
  const g = document.getElementById('o-marks');
  const x = i => 1285 + 53.4 * i;
  const y = linear(0, 90, 1969, 1743);
  const colors = ['#000', '#c49450', '#7c7e2d', RED, '#6a9bd4', '#9960a8'];
  const shapes = ['circle', 'square', 'triangle', 'invtriangle', 'diamond', 'circle'];
  const series = [oWTCtrl, oWTg2, oWTg3, oGOTCtrl, oGOTg2, oGOTg3];
  series.forEach(function (vals, i) {
    const mean = vals.reduce((a, b) => a + b, 0) / vals.length;
    const sd = Math.sqrt(vals.reduce((a, b) => a + (b - mean) * (b - mean), 0) / (vals.length - 1));
    const w = el('g', {stroke: colors[i], 'stroke-width': 2}, g);
    
    
    el('line', {x1: x(i) - 14, x2: x(i) + 14, y1: y(mean), y2: y(mean)}, w);
    el('line', {x1: x(i) - 9, x2: x(i) + 9, y1: y(mean + sd), y2: y(mean + sd)}, w);
    el('line', {x1: x(i) - 9, x2: x(i) + 9, y1: y(mean - sd), y2: y(mean - sd)}, w);
    el('line', {x1: x(i), x2: x(i), y1: y(mean + sd), y2: y(mean - sd)}, w);
    const off = [-10, 0, 11];
    vals.forEach(function (v, k) {
      const p = marker(g, shapes[i], x(i) + off[k], y(v), 5, colors[i]);
      
      
    });
    xTick(g, 'chart-o', x(i), 1969);
    const t = richText(g, oCategories[i], x(i) + 9, 1990, 26, {anchor: 'end', rotate: -47});
    
    
  });
  yAxis(g, 'chart-o', 1245, y, oTicks, 17, 0, 5);
  xAxisLine(g, 'chart-o', 1245, 1589, 1969);
})();
</script>
</body>
</html>
